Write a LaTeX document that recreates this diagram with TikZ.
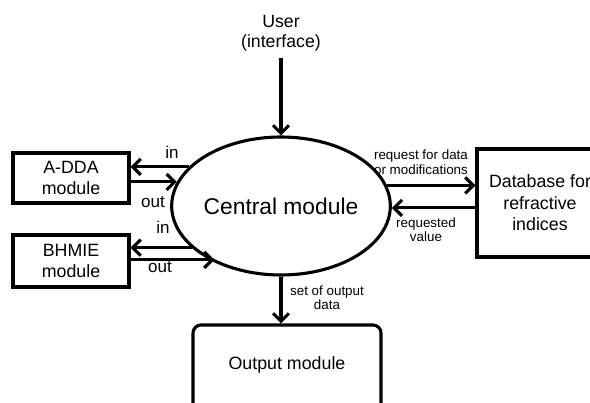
\documentclass[tikz,border=0pt]{standalone}
\usepackage{fontspec}
\setmainfont{Liberation Sans}
\usetikzlibrary{arrows.meta,shapes.geometric}
\begin{document}
\begin{tikzpicture}[x=1pt,y=-1pt,
  lw/.style={line width=3.1pt},
  box/.style={draw,lw,inner sep=0pt,align=center,font=\fontsize{17.8}{21.5}\selectfont},
  arr/.style={lw,-{Straight Barb[length=8pt,width=16pt]}},
  lab/.style={font=\fontsize{17}{20}\selectfont,inner sep=0pt},
  small/.style={font=\fontsize{13.4}{14.5}\selectfont,align=center,inner sep=0pt}]
\useasboundingbox (0,0) rectangle (590,403);
\clip (0,0) rectangle (590,403);
\fill[white] (0,0) rectangle (590,403);

\node[font=\fontsize{17.7}{20}\selectfont,align=center,inner xsep=0pt,inner ysep=7pt] (user) at (281,33) {User\\(interface)};
\node[draw,lw,ellipse,minimum width=198pt,minimum height=138pt,inner sep=0pt,
      font=\fontsize{22.8}{24}\selectfont] (central) at (281,206) {Central module};
\node[box,minimum width=116pt,minimum height=50pt] (adda) at (71,178) {A-DDA\\module};
\node[box,minimum width=116pt,minimum height=52pt] (bhmie) at (71,261) {BHMIE\\module};
\node[box,minimum width=126pt,minimum height=108pt] (db) at (540,203) {Database for\\refractive\\indices};
\node[box,rounded corners=8pt,minimum width=188pt,minimum height=86pt,text depth=10pt] (outbox) at (287,368) {Output module};

\draw[arr] (user.south) -- (central.north);
\draw[arr] (central.157) -- (central.157 -| adda.east);
\draw[arr] (central.167 -| adda.east) -- (central.167);
\draw[arr] (central.205) -- (central.205 -| bhmie.east);
\draw[arr,shorten >=-5pt] (central.217 -| bhmie.east) -- (central.217);
\draw[arr] (central.11) -- (central.11 -| db.west);
\draw[arr] (central.359 -| db.west) -- (central.359);
\draw[arr] (central.south) -- (central.south |- outbox.north);

\node[lab] (inA) at (172,152) {in};
\node[lab] (outA) at (153,202) {out};
\node[lab] (inB) at (163,227) {in};
\node[lab] (outB) at (160,267) {out};
\node[small] (req) at (421,162) {request for data\\or modifications};
\node[small] (reqv) at (426,229.5) {requested\\value};
\node[small] (setout) at (327,297.5) {set of output\\data};
\end{tikzpicture}
\end{document}
